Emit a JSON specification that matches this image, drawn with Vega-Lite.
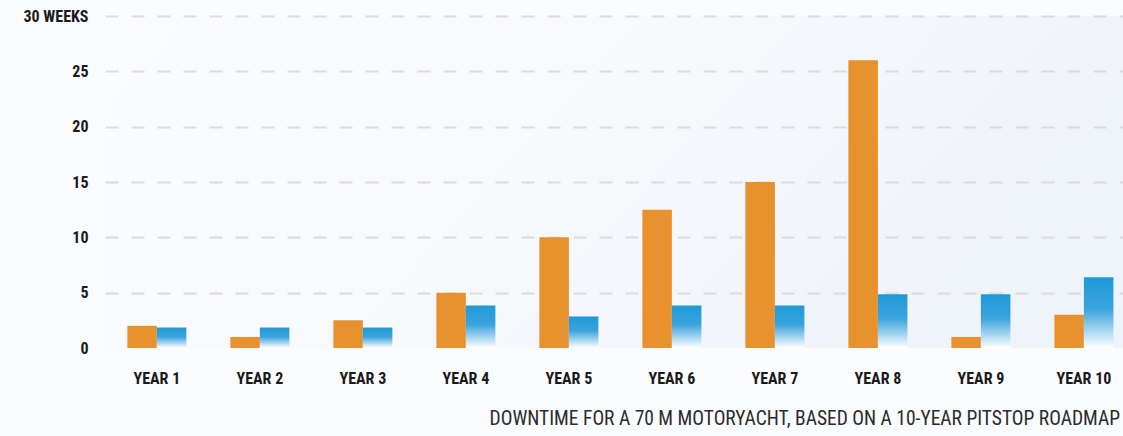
{
  "$schema": "https://vega.github.io/schema/vega-lite/v6.json",
  "autosize": "none",
  "padding": {"left": 105, "top": 16, "right": 0, "bottom": 88},
  "width": 1018,
  "height": 332,
  "background": "#fafbfd",
  "config": {
    "view": {
      "stroke": null,
      "fill": {
        "gradient": "linear",
        "x1": 0, "y1": 0, "x2": 1, "y2": 0.3,
        "stops": [
          {"offset": 0, "color": "#fafbfd"},
          {"offset": 0.5, "color": "#f7f9fc"},
          {"offset": 1, "color": "#eff3fa"}
        ]
      }
    },
    "font": "Roboto Condensed, Liberation Sans Narrow, DejaVu Sans Condensed, Roboto, sans-serif"
  },
  "title": {
    "text": "DOWNTIME FOR A 70 M MOTORYACHT, BASED ON A 10-YEAR PITSTOP ROADMAP",
    "orient": "bottom",
    "anchor": "end",
    "frame": "bounds",
    "font": "Roboto Condensed, Liberation Sans Narrow, Roboto, sans-serif",
    "fontSize": 19.5,
    "fontWeight": "normal",
    "color": "#2b2b2b",
    "offset": 24,
    "dx": -3
  },
  "data": {
    "values": [
      {"year": "YEAR 1", "series": "Conventional", "weeks": 2},
      {"year": "YEAR 1", "series": "Pitstop", "weeks": 1.85},
      {"year": "YEAR 2", "series": "Conventional", "weeks": 1},
      {"year": "YEAR 2", "series": "Pitstop", "weeks": 1.85},
      {"year": "YEAR 3", "series": "Conventional", "weeks": 2.5},
      {"year": "YEAR 3", "series": "Pitstop", "weeks": 1.85},
      {"year": "YEAR 4", "series": "Conventional", "weeks": 5},
      {"year": "YEAR 4", "series": "Pitstop", "weeks": 3.85},
      {"year": "YEAR 5", "series": "Conventional", "weeks": 10},
      {"year": "YEAR 5", "series": "Pitstop", "weeks": 2.85},
      {"year": "YEAR 6", "series": "Conventional", "weeks": 12.5},
      {"year": "YEAR 6", "series": "Pitstop", "weeks": 3.85},
      {"year": "YEAR 7", "series": "Conventional", "weeks": 15},
      {"year": "YEAR 7", "series": "Pitstop", "weeks": 3.85},
      {"year": "YEAR 8", "series": "Conventional", "weeks": 26},
      {"year": "YEAR 8", "series": "Pitstop", "weeks": 4.85},
      {"year": "YEAR 9", "series": "Conventional", "weeks": 1},
      {"year": "YEAR 9", "series": "Pitstop", "weeks": 4.85},
      {"year": "YEAR 10", "series": "Conventional", "weeks": 3},
      {"year": "YEAR 10", "series": "Pitstop", "weeks": 6.4}
    ]
  },
  "mark": {"type": "bar"},
  "encoding": {
    "x": {
      "field": "year",
      "type": "nominal",
      "sort": null,
      "scale": {"paddingInner": 0.427, "paddingOuter": 0.155, "align": 0.7},
      "axis": {
        "title": null,
        "labelAngle": 0,
        "ticks": false,
        "domain": false,
        "labelPadding": 22,
        "labelFontSize": 16,
        "labelFontWeight": "bold",
        "labelColor": "#1a1a1a"
      }
    },
    "xOffset": {
      "field": "series",
      "type": "nominal",
      "scale": {"domain": ["Conventional", "Pitstop"], "paddingInner": 0, "paddingOuter": 0}
    },
    "y": {
      "field": "weeks",
      "type": "quantitative",
      "scale": {"domain": [0, 30], "nice": false},
      "axis": {
        "title": null,
        "values": [0, 5, 10, 15, 20, 25, 30],
        "ticks": false,
        "domain": false,
        "labelPadding": 17,
        "labelFontSize": 16,
        "labelFontWeight": "bold",
        "labelColor": "#1a1a1a",
        "labelExpr": "datum.value === 30 ? '30 WEEKS' : datum.label",
        "gridDash": [13, 13],
        "gridWidth": 2,
        "gridColor": {"condition": {"test": "datum.value === 0", "value": "transparent"}, "value": "#dcdcdc"}
      }
    },
    "fill": {
      "condition": {
        "test": "datum.series === 'Pitstop'",
        "value": {
          "gradient": "linear",
          "x1": 0, "y1": 0, "x2": 0, "y2": 1,
          "stops": [
            {"offset": 0, "color": "#1e9ad8"},
            {"offset": 0.45, "color": "#3ba3dd"},
            {"offset": 1, "color": "#ffffff"}
          ]
        }
      },
      "value": "#e8922f"
    }
  }
}
